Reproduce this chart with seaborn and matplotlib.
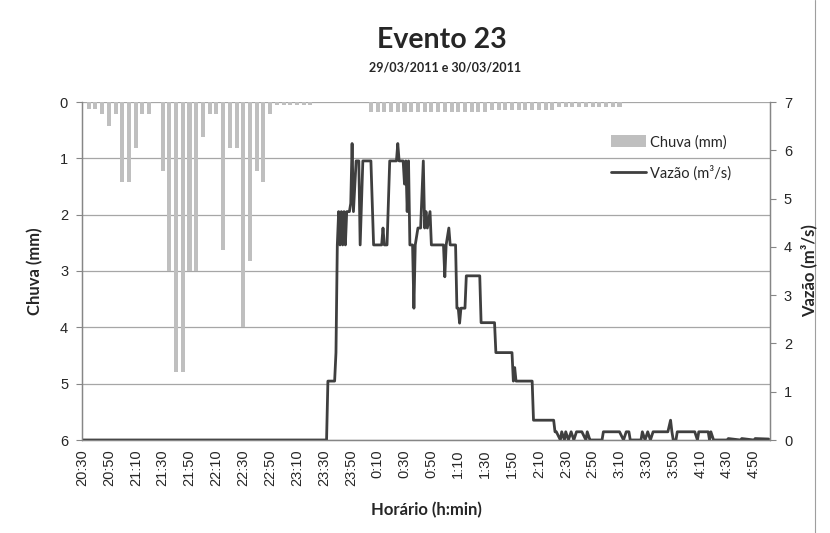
import matplotlib
matplotlib.use("Agg")
import matplotlib.pyplot as plt
import seaborn as sns
import pandas as pd
from matplotlib.patches import Patch
from matplotlib.lines import Line2D

# ---------------- data ----------------
title = "Evento 23"
subtitle = "29/03/2011 e 30/03/2011"
x_label = "Horário (h:min)"
left_label = "Chuva (mm)"
right_label = "Vazão (m³/s)"
rain_name = "Chuva (mm)"
flow_name = "Vazão (m³/s)"

# rain: minutes after 20:30 (5-minute totals)
rain_minutes = list(range(5, 145, 5)) + list(range(145, 175, 5)) + list(range(215, 405, 5))
rain_mm = [0.12, 0.12, 0.22, 0.42, 0.22, 1.42, 1.42, 0.82, 0.22, 0.22,
           0.0, 1.22, 3.0, 4.8, 4.8, 3.0, 3.0, 0.62, 0.22, 0.22,
           2.62, 0.82, 0.82, 4.0, 2.82, 1.22, 1.42, 0.22,
           0.06, 0.06, 0.06, 0.06, 0.06, 0.06,
           0.18, 0.18, 0.18, 0.18, 0.18, 0.18, 0.18, 0.18, 0.18, 0.18,
           0.18, 0.18, 0.18, 0.18, 0.18, 0.18, 0.18, 0.18,
           0.15, 0.15, 0.15, 0.15, 0.15, 0.15, 0.15, 0.15, 0.15, 0.15,
           0.08, 0.08, 0.08, 0.08, 0.08, 0.08, 0.08, 0.08, 0.08, 0.08]

# flow: minutes after 20:30 and discharge (m3/s)
flow_minutes = [0, 182, 183, 188, 189, 190, 191, 192, 193, 194, 195, 196, 197, 199, 200,
                201, 202, 204, 206, 207, 209, 215, 217, 223, 224, 225, 227, 229, 234, 235,
                236, 239, 240, 241, 242, 243, 244, 246, 247, 248, 250, 252, 254, 255, 256,
                257, 259, 260, 269, 270, 271, 273, 274, 278, 279, 280, 281, 282, 285, 286,
                296, 297, 307, 308, 320, 321, 322, 323, 335, 336, 351, 352, 353, 356, 357,
                359, 360, 362, 364, 366, 368, 372, 375, 376, 378, 379, 387, 388, 400, 403,
                405, 407, 408, 416, 417, 419, 421, 423, 425, 436, 438, 439, 440, 442, 443,
                456, 458, 459, 466, 467, 468, 470, 480, 481, 490, 491, 500, 501, 511]
flow_m3s = [0.0, 0.0, 1.22, 1.22, 1.81, 4.04, 4.73, 4.04, 4.73, 4.04, 4.73, 4.04, 4.73, 4.73, 4.9,
            6.14, 4.73, 5.78, 5.78, 4.04, 5.78, 5.78, 4.04, 4.04, 4.39, 4.04, 4.04, 5.78, 5.78, 6.14,
            5.78, 5.78, 5.3, 5.78, 4.73, 5.78, 4.04, 4.04, 2.73, 4.04, 4.39, 4.39, 5.78, 4.39, 4.73,
            4.39, 4.73, 4.04, 4.04, 3.38, 4.04, 4.39, 4.04, 4.04, 2.73, 2.73, 2.42, 2.73, 2.73, 3.40,
            3.40, 2.43, 2.43, 1.81, 1.81, 1.22, 1.5, 1.22, 1.22, 0.41, 0.41, 0.17, 0.17, 0.0, 0.17,
            0.0, 0.17, 0.0, 0.17, 0.0, 0.17, 0.17, 0.0, 0.17, 0.0, 0.0, 0.0, 0.17, 0.17, 0.0,
            0.17, 0.17, 0.0, 0.0, 0.17, 0.0, 0.17, 0.0, 0.17, 0.17, 0.41, 0.17, 0.0, 0.0, 0.17,
            0.17, 0.0, 0.17, 0.17, 0.0, 0.17, 0.0, 0.0, 0.03, 0.0, 0.03, 0.0, 0.03, 0.02]

tick_labels = ["20:30", "20:50", "21:10", "21:30", "21:50", "22:10", "22:30", "22:50",
               "23:10", "23:30", "23:50", "0:10", "0:30", "0:50", "1:10", "1:30", "1:50",
               "2:10", "2:30", "2:50", "3:10", "3:30", "3:50", "4:10", "4:30", "4:50"]
left_ticks = [0, 1, 2, 3, 4, 5, 6]
right_ticks = [0, 1, 2, 3, 4, 5, 6, 7]

rain_df = pd.DataFrame({"min": rain_minutes, "mm": rain_mm})
flow_df = pd.DataFrame({"min": flow_minutes, "q": flow_m3s})

# ---------------- style ----------------
sns.set_style("white")
plt.rcParams["font.family"] = ["Liberation Sans", "DejaVu Sans"]
TITLE_FONT = ["Lato", "DejaVu Sans"]

BAR_COLOR = "#BFBFBF"
LINE_COLOR = "#3F3F3F"
AXIS_COLOR = "#868686"
GRID_COLOR = "#A6A6A6"

fig = plt.figure(figsize=(8.3, 5.33), dpi=100)
fig.add_artist(Line2D([815 / 830, 815 / 830], [0, 1], transform=fig.transFigure,
                      color="#9E9E9E", linewidth=0.8, zorder=-5))

ax1 = fig.add_axes([82 / 830, 1 - 440 / 533, (770 - 82) / 830, (440 - 102) / 533])

sns.barplot(data=rain_df, x="min", y="mm", native_scale=True, color=BAR_COLOR,
            width=0.6, linewidth=0, saturation=1, ax=ax1, errorbar=None)
ax1.set_xlim(0, 512)
ax1.set_ylim(6, 0)
ax1.set_yticks(left_ticks)
ax1.set_yticklabels([str(t) for t in left_ticks], fontsize=10.5)
ax1.set_xticks(list(range(0, 520, 20)))
ax1.set_xticklabels(tick_labels, rotation=90, fontsize=10.5)
ax1.set_xticks(list(range(10, 520, 20)), minor=True)
ax1.tick_params(axis="x", which="both", direction="out", length=4, width=0.8,
                color=AXIS_COLOR, pad=3)
ax1.tick_params(axis="y", direction="out", length=4, width=0.8, color=AXIS_COLOR, pad=6)
ax1.grid(axis="y", color=GRID_COLOR, linewidth=0.9)
ax1.set_axisbelow(True)
for s in ["left", "bottom", "right"]:
    ax1.spines[s].set_color(AXIS_COLOR)
    ax1.spines[s].set_linewidth(0.9)
ax1.spines["top"].set_visible(False)
ax1.set_xlabel(x_label, fontsize=12, fontweight="bold", family=TITLE_FONT, labelpad=11)
ax1.set_ylabel(left_label, fontsize=12, fontweight="bold", family=TITLE_FONT, labelpad=12)

ax2 = ax1.twinx()
sns.lineplot(data=flow_df, x="min", y="q", color=LINE_COLOR, linewidth=2.0, ax=ax2)
ax2.set_ylim(0, 7)
ax2.set_xlim(0, 512)
ax2.set_yticks(right_ticks)
ax2.set_yticklabels([str(t) for t in right_ticks], fontsize=10.5)
ax2.tick_params(axis="y", direction="out", length=4, width=0.8, color=AXIS_COLOR, pad=6)
for s in ["left", "bottom", "right"]:
    ax2.spines[s].set_color(AXIS_COLOR)
    ax2.spines[s].set_linewidth(0.9)
ax2.spines["top"].set_visible(False)
ax2.set_ylabel(right_label, fontsize=12, fontweight="bold", family=TITLE_FONT,
               rotation=90, labelpad=6)
ax2.set_xlabel("")

handles = [Patch(facecolor=BAR_COLOR, edgecolor="none"),
           Line2D([0], [0], color=LINE_COLOR, linewidth=2.0)]
leg = fig.legend(handles, [rain_name, flow_name], loc="upper left",
                 bbox_to_anchor=(611 / 830, 1 - 135 / 533), frameon=False,
                 borderpad=0, borderaxespad=0, handlelength=2.4, handleheight=0.9,
                 handletextpad=0.25, labelspacing=1.1,
                 prop={"family": TITLE_FONT, "size": 10.5})

fig.text(442 / 830, 1 - 40 / 533, title, ha="center", va="center",
         fontsize=20.5, fontweight="bold", family=TITLE_FONT)
fig.text(445 / 830, 1 - 67 / 533, subtitle, ha="center", va="center",
         fontsize=9, fontweight="bold", family=TITLE_FONT)

fig.savefig("out.png", dpi=100)
